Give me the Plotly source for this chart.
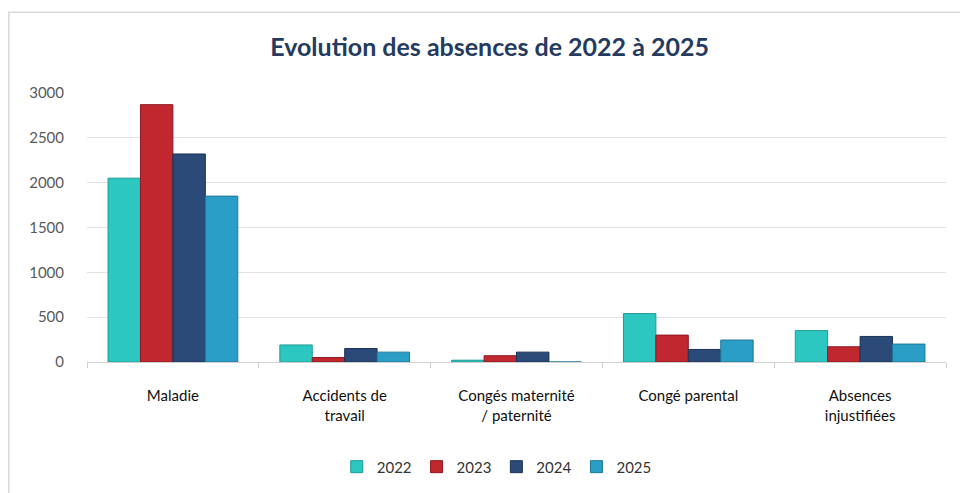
import plotly.graph_objects as go

categories = ["Maladie", "Accidents de<br>travail", "Congés maternité<br>/ paternité",
              "Congé parental", "Absences<br>injustifiées"]
years = ["2022", "2023", "2024", "2025"]
v2022 = [2050, 190, 20, 540, 350]
v2023 = [2870, 50, 70, 300, 170]
v2024 = [2320, 150, 110, 140, 285]
v2025 = [1850, 110, 0, 245, 200]
tick_vals = [0, 500, 1000, 1500, 2000, 2500, 3000]

colors = ["#2cc7c1", "#c1272f", "#2b4a78", "#2a9ec6"]
edges = ["#1e9a95", "#8e1a20", "#1b3256", "#1d7896"]

fig = go.Figure()
for year, vals, col, edge in zip(years, [v2022, v2023, v2024, v2025], colors, edges):
    fig.add_trace(go.Bar(
        x=categories, y=vals, name=year,
        marker=dict(color=col, line=dict(color=edge, width=1)),
    ))

fig.update_layout(
    width=960, height=493,
    paper_bgcolor="white", plot_bgcolor="white",
    margin=dict(l=87, r=14, t=93, b=131, autoexpand=False),
    barmode="group", bargap=0.245, bargroupgap=0,
    font=dict(family="Lato", color="#262626"),
    title=dict(text="<b>Evolution des absences de 2022 à 2025</b>",
               x=0.51, xanchor="center", y=0.905, yanchor="middle",
               font=dict(size=25, color="#243a5e", family="Lato")),
    legend=dict(orientation="h", x=0.477, xanchor="center", y=-0.39, yanchor="middle",
                font=dict(size=15, color="#333333", family="Lato"),
                itemwidth=30, tracegroupgap=0),
    showlegend=True,
)
fig.update_xaxes(
    automargin=False,
    showline=True, linecolor="#d0d0d0", linewidth=1,
    ticks="outside", tickson="boundaries", ticklen=5, tickcolor="#d0d0d0",
    tickfont=dict(size=15, color="#111111", family="Lato"),
    ticklabelstandoff=20,
    showgrid=False,
)
fig.update_yaxes(
    automargin=False,
    range=[0, 3000], tickvals=tick_vals,
    showgrid=True, gridcolor="#e3e3e3", gridwidth=1,
    zeroline=False, showline=False,
    tickfont=dict(size=15, color="#595959", family="Lato"),
    ticklabelstandoff=22,
)
# chart frame
fig.add_shape(type="rect", xref="paper", yref="paper",
              x0=-0.091, x1=1.2, y0=-0.6, y1=1.3,
              line=dict(color="#d9d9d9", width=1.5), layer="below")

fig.write_html("out.html", config={"displayModeBar": False},
               post_script="document.body.style.margin='0';")
